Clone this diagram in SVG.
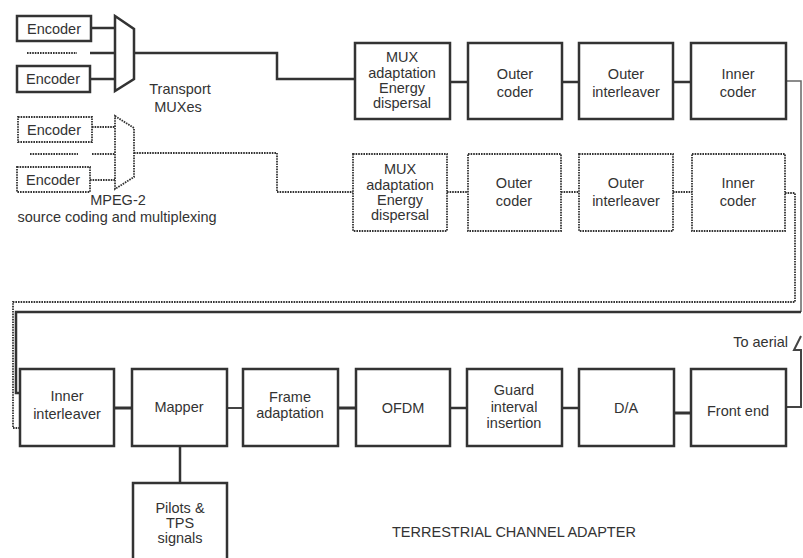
<svg xmlns="http://www.w3.org/2000/svg" width="803" height="558" viewBox="0 0 803 558">
<style>
.box{fill:#fff;stroke:#333;stroke-width:2.5}
.dbox{fill:#fff;stroke:#333;stroke-width:1.8;stroke-dasharray:1.6 1}
.ln{fill:none;stroke:#333;stroke-width:2.5}
.thin{fill:none;stroke:#444;stroke-width:2}
.gray{fill:none;stroke:#666;stroke-width:1.5}
.dl{fill:none;stroke:#333;stroke-width:1.8;stroke-dasharray:1.6 1}
text{font-family:"Liberation Sans",Arial,sans-serif;font-size:14.5px;fill:#333;text-anchor:middle}
</style>
<rect width="803" height="558" fill="#fff"/>
<g id="connectors">
<line class="ln" x1="91" y1="28" x2="115" y2="28"/>
<line class="ln" x1="90" y1="53" x2="115" y2="53"/>
<line class="dl" x1="27" y1="53" x2="77" y2="53"/>
<line class="ln" x1="90" y1="79" x2="115" y2="79"/>
<polyline class="ln" points="134,53 277,53 277,79 355,79"/>
<line class="ln" x1="450" y1="82" x2="468" y2="82"/>
<line class="ln" x1="562" y1="82" x2="579" y2="82"/>
<line class="ln" x1="673" y1="82" x2="691" y2="82"/>
<polyline class="gray" points="786,81 801,81 801,312"/>
<polyline class="ln" points="801,312 16,312 16,393 20,393"/>
<line class="dl" x1="92" y1="127" x2="115" y2="127"/>
<line class="dl" x1="30" y1="154" x2="78" y2="154"/>
<line class="dl" x1="92" y1="154" x2="115" y2="154"/>
<line class="dl" x1="90" y1="180" x2="115" y2="180"/>
<polyline class="dl" points="134,153 277,153 277,192 353,192"/>
<line class="dl" x1="447" y1="192" x2="468" y2="192"/>
<line class="dl" x1="561" y1="192" x2="579" y2="192"/>
<line class="dl" x1="673" y1="192" x2="692" y2="192"/>
<polyline class="dl" points="785,193 795,193 795,302 13,302 13,428 22,428"/>
<line class="ln" x1="114" y1="408" x2="132" y2="408" style="stroke-width:3"/>
<line class="thin" x1="227" y1="408" x2="243" y2="408"/>
<line class="ln" x1="338" y1="408" x2="356" y2="408" style="stroke-width:3"/>
<line class="ln" x1="450" y1="408" x2="467" y2="408"/>
<line class="ln" x1="562" y1="408" x2="579" y2="408"/>
<line class="ln" x1="674" y1="413" x2="691" y2="413" style="stroke-width:3"/>
<line class="ln" x1="180" y1="446" x2="180" y2="483"/>
<polyline class="thin" points="786,407 801,407 801,350 794,350 801,336"/>
</g>
<g id="encoder1"><rect class="box" x="17" y="16" width="74" height="25"/><text x="54" y="34">Encoder</text></g>
<g id="encoder2"><rect class="box" x="17" y="66" width="73" height="26"/><text x="53" y="84">Encoder</text></g>
<g id="transport-mux"><polygon class="box" points="115,16 134,29 134,79 115,91"/><text x="180" y="94">Transport</text><text x="178" y="112">MUXes</text></g>
<g id="encoder3"><rect class="dbox" x="18" y="117" width="74" height="25"/><text x="54" y="135">Encoder</text></g>
<g id="encoder4"><rect class="dbox" x="17" y="167" width="73" height="25"/><text x="53" y="185">Encoder</text></g>
<g id="mpeg-mux"><polygon class="dbox" points="115,116 134,128 134,177 115,189"/><text x="118" y="205">MPEG-2</text><text x="117" y="222">source coding and multiplexing</text></g>
<g id="mux-adapt"><rect class="box" x="355" y="43" width="95" height="76"/><text x="402" y="62">MUX</text><text x="402" y="78">adaptation</text><text x="402" y="93">Energy</text><text x="402" y="108">dispersal</text></g>
<g id="outer-coder"><rect class="box" x="468" y="43" width="94" height="76"/><text x="515" y="79">Outer</text><text x="515" y="97">coder</text></g>
<g id="outer-interleaver"><rect class="box" x="579" y="43" width="94" height="76"/><text x="626" y="79">Outer</text><text x="626" y="97">interleaver</text></g>
<g id="inner-coder"><rect class="box" x="691" y="43" width="95" height="76"/><text x="738" y="79">Inner</text><text x="738" y="97">coder</text></g>
<g id="mux-adapt-2"><rect class="dbox" x="353" y="154" width="94" height="77"/><text x="400" y="174">MUX</text><text x="400" y="190">adaptation</text><text x="400" y="205">Energy</text><text x="400" y="220">dispersal</text></g>
<g id="outer-coder-2"><rect class="dbox" x="468" y="154" width="93" height="77"/><text x="514" y="188">Outer</text><text x="514" y="206">coder</text></g>
<g id="outer-interleaver-2"><rect class="dbox" x="579" y="154" width="94" height="77"/><text x="626" y="188">Outer</text><text x="626" y="206">interleaver</text></g>
<g id="inner-coder-2"><rect class="dbox" x="692" y="154" width="93" height="77"/><text x="738" y="188">Inner</text><text x="738" y="206">coder</text></g>
<g id="inner-interleaver"><rect class="box" x="20" y="369" width="94" height="77"/><text x="67" y="401">Inner</text><text x="67" y="419">interleaver</text></g>
<g id="mapper"><rect class="box" x="132" y="369" width="95" height="77"/><text x="179" y="412">Mapper</text></g>
<g id="frame-adaptation"><rect class="box" x="243" y="369" width="95" height="77"/><text x="290" y="402">Frame</text><text x="290" y="418">adaptation</text></g>
<g id="ofdm"><rect class="box" x="356" y="369" width="94" height="77"/><text x="403" y="413">OFDM</text></g>
<g id="guard-interval"><rect class="box" x="467" y="369" width="95" height="77"/><text x="514" y="395">Guard</text><text x="514" y="412">interval</text><text x="514" y="428">insertion</text></g>
<g id="da"><rect class="box" x="579" y="369" width="95" height="77"/><text x="626" y="413">D/A</text></g>
<g id="front-end"><rect class="box" x="691" y="369" width="95" height="77"/><text x="738" y="416">Front end</text></g>
<g id="pilots"><rect class="box" x="133" y="483" width="94" height="90"/><text x="180" y="513">Pilots &amp;</text><text x="180" y="528">TPS</text><text x="180" y="543">signals</text></g>
<text x="788" y="347" style="text-anchor:end">To aerial</text>
<text x="392" y="537" style="text-anchor:start">TERRESTRIAL CHANNEL ADAPTER</text>
</svg>
